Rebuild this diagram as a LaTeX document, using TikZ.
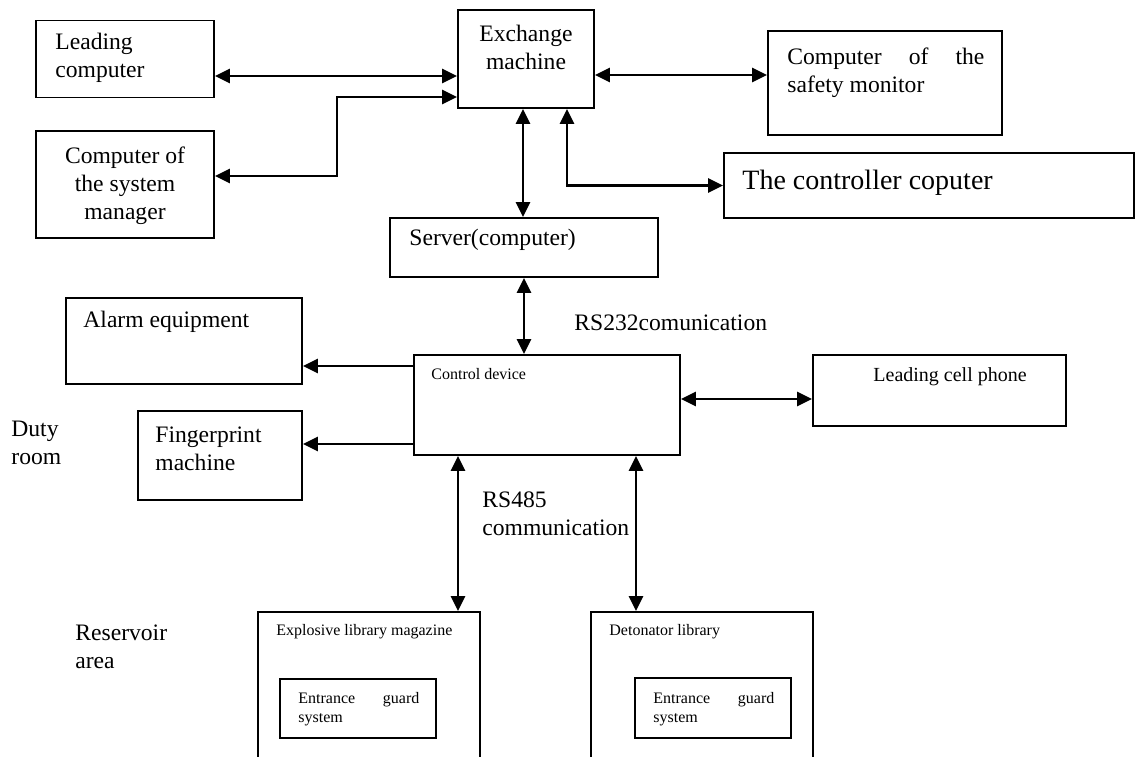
\documentclass[tikz,border=0pt]{standalone}
\usepackage{fontspec}
\setmainfont{Liberation Serif}
\usetikzlibrary{positioning, arrows.meta, calc}
\tolerance=10000
\hbadness=10000
\hyphenpenalty=10000

\begin{document}
\begin{tikzpicture}[x=0.5pt, y=-0.5pt,
    >={Triangle[length=7.5pt, width=7pt]},
    box/.style={rectangle, draw=black, line width=0.9pt, inner sep=0pt},
    link/.style={line width=1.3pt},
    txt/.style={inner sep=0pt, font=\fontsize{11.8}{14}\selectfont},
    tiny/.style={inner sep=0pt, font=\fontsize{8}{9.5}\selectfont}
]
\useasboundingbox (0,0) rectangle (1136,756);
\clip (0,0) rectangle (1136,756);

% exchange machine and the computers hanging on it
\node[box, minimum width=68pt, minimum height=49pt] (exch) at (526,59) {};
\node[txt, align=center, anchor=north] (exchText) at (526,25) {Exchange\\machine};

\node[box, minimum width=89pt, minimum height=38.5pt] (lead) at (125,59) {};
\node[txt, align=left, anchor=north west] (leadText) at (55,33) {Leading\\computer};

\node[box, minimum width=89pt, minimum height=53.5pt] (sysmgr) at (125,184.5) {};
\node[txt, align=center, anchor=north] (sysmgrText) at (125,146) {Computer of\\the system\\manager};

\node[box, minimum width=117pt, minimum height=52pt] (safety) at (885,83) {};
\node[txt, text width=98.5pt, align=justify, anchor=north west] (safetyText) at (787,47) {Computer of the safety monitor};

\node[box, minimum width=205pt, minimum height=32.5pt] (ctrlpc) at (929,185.5) {};
\node[inner sep=0pt, font=\fontsize{14}{16}\selectfont, anchor=west] (ctrlpcText) at (742,183) {The controller coputer};

\node[box, minimum width=134pt, minimum height=29.5pt] (server) at (524,247.5) {};
\node[txt, anchor=west] (serverText) at (409,240) {Server(computer)};

% duty room
\node[box, minimum width=133pt, minimum height=50pt] (ctrl) at (547,405) {};
\node[tiny, anchor=west] (ctrlText) at (431,374) {Control device};

\node[box, minimum width=118pt, minimum height=43pt] (alarm) at (184,341) {};
\node[txt, anchor=west] (alarmText) at (83,322) {Alarm equipment};

\node[box, minimum width=82pt, minimum height=44.5pt] (finger) at (220,455.5) {};
\node[txt, align=left, anchor=north west] (fingerText) at (155,426) {Fingerprint\\machine};

\node[box, minimum width=126.5pt, minimum height=35.5pt] (phone) at (939.5,390.5) {};
\node[inner sep=0pt, font=\fontsize{10}{12}\selectfont, anchor=west] (phoneText) at (873,377) {Leading cell phone};

\node[txt, align=left, anchor=north west] (duty) at (11,421) {Duty\\room};
\node[txt, anchor=base west] (rs232) at (574,330) {RS232comunication};
\node[txt, align=left, anchor=north west] (rs485) at (482,491) {RS485\\communication};

% reservoir area
\node[txt, align=left, anchor=north west] (reservoir) at (75,624) {Reservoir\\area};

\node[box, minimum width=111pt, minimum height=89pt] (expl) at (369,701) {};
\node[tiny, anchor=west] (explText) at (276,632) {Explosive library magazine};
\node[box, minimum width=78pt, minimum height=29.5pt] (guardA) at (358,708.5) {};
\node[tiny, text width=60.5pt, align=justify, anchor=north west] (guardAText) at (298,692) {Entrance guard system};

\node[box, minimum width=111pt, minimum height=89pt] (deto) at (702,701) {};
\node[tiny, anchor=west] (detoText) at (609,632) {Detonator library};
\node[box, minimum width=78pt, minimum height=30pt] (guardB) at (713,708) {};
\node[tiny, text width=60.5pt, align=justify, anchor=north west] (guardBText) at (653,692) {Entrance guard system};

% links around the exchange machine
\draw[link, <->] ([yshift=-8.5pt]lead.east) -- ([yshift=-8.5pt]exch.west);
\draw[link, <->] ([yshift=-8pt]exch.east) -- ([yshift=-8pt]exch.east -| safety.west);
\draw[link, <->] ([yshift=4.25pt]sysmgr.east) -- ++(122,0) |- ([yshift=-19pt]exch.west);
\draw[link, <->] ([xshift=-1.5pt]exch.south) -- ([xshift=-1.5pt]exch.south |- server.north);
\draw[link, <->] ([xshift=20.5pt]exch.south) |- (ctrlpc.west);

% links of the control device
\draw[link, <->] (server.south) -- (server.south |- ctrl.north);
\draw[link, ->] ([yshift=19.5pt]ctrl.west) -- ([yshift=19.5pt]ctrl.west -| alarm.east);
\draw[link, ->] ([yshift=-19.5pt]ctrl.west) -- ([yshift=-19.5pt]ctrl.west -| finger.east);
\draw[link, <->] ([yshift=3pt]ctrl.east) -- ([yshift=3pt]ctrl.east -| phone.west);
\draw[link, <->] ([xshift=-44.5pt]ctrl.south) -- ([xshift=-44.5pt]ctrl.south |- expl.north);
\draw[link, <->] ([xshift=44.5pt]ctrl.south) -- ([xshift=44.5pt]ctrl.south |- deto.north);

\end{tikzpicture}
\end{document}
